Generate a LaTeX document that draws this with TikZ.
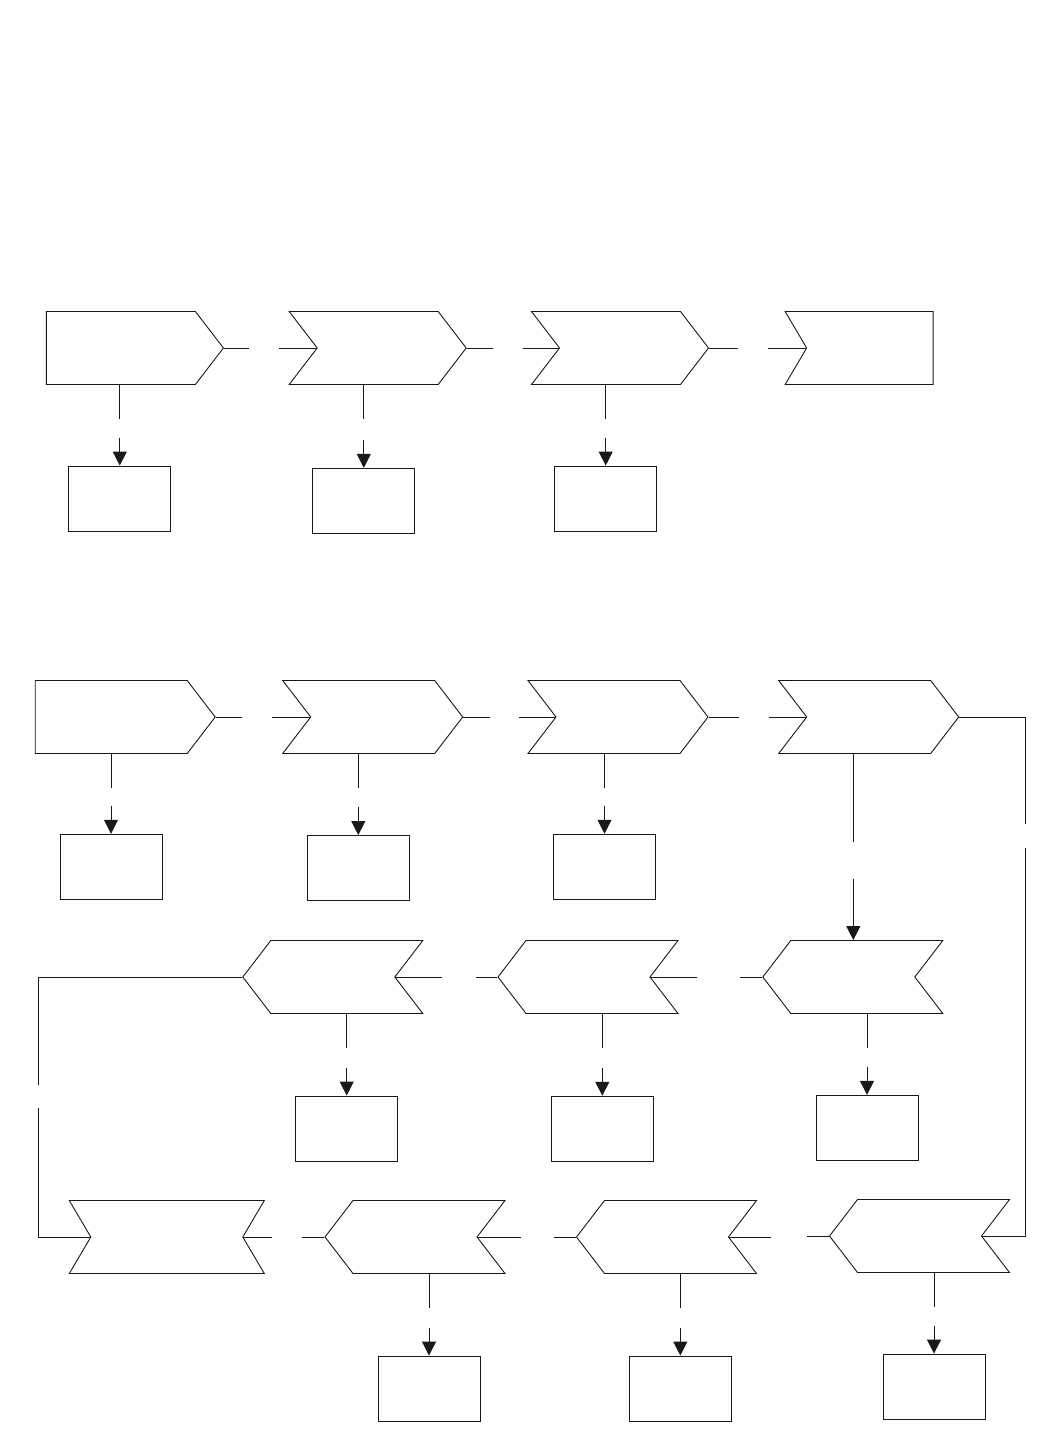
\documentclass[tikz,border=0pt]{standalone}
\usetikzlibrary{shapes.symbols,arrows.meta,calc}
\begin{document}
\begin{tikzpicture}[x=1pt,y=-1pt,
  line width=0.9pt, color={black!90},
  sig/.style={draw, signal, signal pointer angle=105, inner sep=0pt, minimum height=73pt, minimum width=180pt},
  box/.style={draw, rectangle, inner sep=0pt, minimum width=102pt, minimum height=65pt},
  arr/.style={-{Triangle[width=14pt,length=14pt]}}]
\useasboundingbox (0,0) rectangle (1052,1429);
% row 1
\node[sig, signal to=east, minimum width=177pt] (a1) at (120.9,348) {};
\node[sig, signal to=east, signal from=west, minimum width=177pt] (a2) at (377.7,348) {};
\node[sig, signal to=east, signal from=west, minimum width=177pt] (a3) at (620,348) {};
\node[sig, signal to=nowhere, signal from=west, signal pointer angle=119, minimum width=148pt] (a4) at (869.9,348) {};
\node[box] (b1) at (119.8,498.5) {};
\node[box] (b2) at (363.8,500.8) {};
\node[box] (b3) at (605.7,498.5) {};
% row 2
\node[sig, signal to=east] (c1) at (111.2,717) {};
\node[sig, signal to=east, signal from=west] (c2) at (372.7,717) {};
\node[sig, signal to=east, signal from=west] (c3) at (618,717) {};
\node[sig, signal to=east, signal from=west] (c4) at (868.7,717) {};
\node[box] (d1) at (111,866.7) {};
\node[box] (d2) at (358.3,868) {};
\node[box] (d3) at (604.5,866.7) {};
% row 3
\node[sig, signal to=west, signal from=east] (e1) at (332.8,977) {};
\node[sig, signal to=west, signal from=east] (e2) at (588,977) {};
\node[sig, signal to=west, signal from=east] (e3) at (852.8,977) {};
\node[box] (f1) at (346.7,1128.5) {};
\node[box] (f2) at (602.3,1128.7) {};
\node[box] (f3) at (867,1127.8) {};
% row 4
\node[sig, signal to=nowhere, signal from=west and east, signal pointer angle=119, minimum width=195pt] (h1) at (166.8,1237) {};
\node[sig, signal to=west, signal from=east] (h2) at (415,1237) {};
\node[sig, signal to=west, signal from=east] (h3) at (666.5,1237) {};
\node[sig, signal to=west, signal from=east] (h4) at (919.5,1236) {};
\node[box] (k2) at (429,1388.5) {};
\node[box] (k3) at (680.3,1388.5) {};
\node[box] (k4) at (934,1386.5) {};
% horizontal connectors row 1
\coordinate (g1a) at (249,348); \coordinate (g1b) at (279.3,348);
\coordinate (g2a) at (492.7,348); \coordinate (g2b) at (523.3,348);
\coordinate (g3a) at (737.7,348); \coordinate (g3b) at (768.3,348);
\draw (a1.east) -- (g1a); \draw (g1b) -- (a2.west);
\draw (a2.east) -- (g2a); \draw (g2b) -- (a3.west);
\draw (a3.east) -- (g3a); \draw (g3b) -- (a4.west);
% row 2
\coordinate (g4a) at (241.7,717); \coordinate (g4b) at (271.7,717);
\coordinate (g5a) at (490,717); \coordinate (g5b) at (519,717);
\coordinate (g6a) at (738.7,717); \coordinate (g6b) at (768.7,717);
\draw (c1.east) -- (g4a); \draw (g4b) -- (c2.west);
\draw (c2.east) -- (g5a); \draw (g5b) -- (c3.west);
\draw (c3.east) -- (g6a); \draw (g6b) -- (c4.west);
% row 3
\coordinate (g7a) at (740.3,977); \coordinate (g7b) at (696.7,977);
\coordinate (g8a) at (476,977); \coordinate (g8b) at (441.7,977);
\draw (e3.west) -- (g7a); \draw (g7b) -- (e2.east);
\draw (e2.west) -- (g8a); \draw (g8b) -- (e1.east);
% row 4
\coordinate (g9a) at (807,1236); \coordinate (g9b) at (771.3,1237);
\coordinate (g10a) at (554,1237); \coordinate (g10b) at (521,1237);
\coordinate (g11a) at (301.7,1237); \coordinate (g11b) at (272.3,1237);
\draw (h4.west) -- (g9a); \draw (g9b) -- (h3.east);
\draw (h3.west) -- (g10a); \draw (g10b) -- (h2.east);
\draw (h2.west) -- (g11a); \draw (g11b) -- (h1.east);
% loops
\coordinate (r1) at (1025.3,824); \coordinate (r2) at (1025.3,848.3);
\draw (c4.east) -| (r1); \draw (r2) |- (h4.east);
\coordinate (l1) at (38.3,1085); \coordinate (l2) at (38.3,1108.3);
\draw (e1.west) -| (l1); \draw (l2) |- (h1.west);
% c4 -> e3
\coordinate (m1) at (853.3,842.3); \coordinate (m2) at (853.3,879.3);
\draw (m1 |- c4.south) -- (m1); \draw[arr] (m2) -- (e3.north -| m2);
% vertical arrows to boxes
\foreach \s/\b in {a1/b1,a2/b2,a3/b3,c1/d1,c2/d2,c3/d3,e1/f1,e2/f2,e3/f3,h2/k2,h3/k3,h4/k4}{
  \coordinate (\b top) at ($(\b.north |- \s.south)+(0,34)$);
  \coordinate (\b bot) at ($(\b.north)+(0,-28)$);
  \draw (\b.north |- \s.south) -- (\b top);
  \draw[arr] (\b bot) -- (\b.north);
}
\end{tikzpicture}
\end{document}
